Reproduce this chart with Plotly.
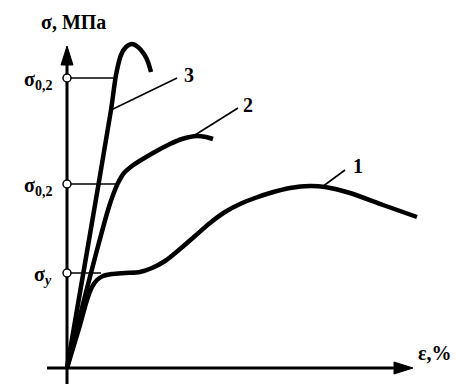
import plotly.graph_objects as go

# Stress-strain curves (strain in %, stress in MPa, arbitrary scale)
strain_1 = [0, 1.3, 2.0, 2.5, 3.0, 3.6, 4.5, 5.8, 7.3, 8.5, 9.8, 11.3, 12.8, 14.3, 15.8, 17.3, 18.8, 20.3, 22.3, 24.3, 25.8, 28.3, 31.6, 35.0]
stress_1 = [0, 86, 136, 162, 176, 184, 188, 190, 192, 200, 214, 238, 264, 290, 312, 328, 340, 350, 360, 364, 362, 350, 326, 302]

strain_2 = [0, 1.7, 3.0, 4.1, 4.6, 5.1, 5.7, 6.5, 8.6, 10.3, 11.5, 13.0, 13.9, 14.6]
stress_2 = [0, 136, 236, 316, 346, 370, 390, 404, 430, 448, 458, 464, 462, 458]

strain_3 = [0, 2.2, 4.4, 4.9, 5.4, 5.9, 6.5, 7.1, 7.7, 8.1, 8.4]
stress_3 = [0, 256, 516, 586, 626, 642, 648, 642, 628, 612, 592]

# Characteristic stresses marked on the stress axis, and where each guide meets its curve
level_labels = ["σ<sub>0,2</sub>", "σ<sub>0,2</sub>", "σ<sub><i>y</i></sub>"]
level_values = [580, 368, 190]
level_reach = [4.8, 5.1, 3.4]

# Curve labels with their leader lines (start on curve, end near label)
curve_names = ["1", "2", "3"]
leader_start = [(25.5, 362), (12.8, 466), (4.4, 516)]
leader_end = [(27.8, 396), (17.1, 520), (11.0, 580)]
label_pos = [(29.1, 404), (18.1, 526), (12.2, 586)]

X_RANGE = [-6.7, 38.9]
Y_RANGE = [-32, 736]
W, H = 456, 384
px_x = W / (X_RANGE[1] - X_RANGE[0])
px_y = H / (Y_RANGE[1] - Y_RANGE[0])

FONT = "Liberation Serif"
fig = go.Figure()

# axes
y_top = 644
x_right = 34.6
fig.add_trace(go.Scatter(x=[0, 0], y=[Y_RANGE[0], y_top - 10], mode="lines",
                         line=dict(color="black", width=3), hoverinfo="skip"))
fig.add_trace(go.Scatter(x=[-2.0, x_right - 1.0], y=[0, 0], mode="lines",
                         line=dict(color="black", width=3), hoverinfo="skip"))
# arrowheads (sized in pixels)
ah_len, ah_half = 19, 6
fig.add_trace(go.Scatter(
    x=[0, -ah_half / px_x, ah_half / px_x, 0],
    y=[y_top, y_top - ah_len / px_y, y_top - ah_len / px_y, y_top],
    mode="lines", fill="toself", fillcolor="black", line=dict(color="black", width=1),
    hoverinfo="skip"))
fig.add_trace(go.Scatter(
    x=[x_right, x_right - ah_len / px_x, x_right - ah_len / px_x, x_right],
    y=[0, ah_half / px_y, -ah_half / px_y, 0],
    mode="lines", fill="toself", fillcolor="black", line=dict(color="black", width=1),
    hoverinfo="skip"))

# horizontal guides
for v, r in zip(level_values, level_reach):
    fig.add_trace(go.Scatter(x=[0, r], y=[v, v], mode="lines",
                             line=dict(color="black", width=1.6), hoverinfo="skip"))

# leader lines
for (x0, y0), (x1, y1) in zip(leader_start, leader_end):
    fig.add_trace(go.Scatter(x=[x0, x1], y=[y0, y1], mode="lines",
                             line=dict(color="black", width=1.6), hoverinfo="skip"))

# curves
for xs, ys in [(strain_1, stress_1), (strain_2, stress_2), (strain_3, stress_3)]:
    fig.add_trace(go.Scatter(x=xs, y=ys, mode="lines",
                             line=dict(color="black", width=4.5, shape="spline", smoothing=0.7),
                             hoverinfo="skip"))

# open circles on stress axis
fig.add_trace(go.Scatter(x=[0] * len(level_values), y=level_values, mode="markers",
                         marker=dict(symbol="circle", size=8, color="white",
                                     line=dict(color="black", width=1.5)),
                         hoverinfo="skip"))

for lab, v in zip(level_labels, level_values):
    fig.add_annotation(x=-1.3, y=v - 4, text=f"<b>{lab}</b>", showarrow=False, xanchor="right",
                       yanchor="middle", font=dict(family=FONT, size=20, color="black"))

for name, (lx, ly) in zip(curve_names, label_pos):
    fig.add_annotation(x=lx, y=ly, text=f"<b>{name}</b>", showarrow=False,
                       font=dict(family=FONT, size=20, color="black"))

fig.add_annotation(x=0.6, y=692, text="<b>σ, МПа</b>", showarrow=False,
                   font=dict(family=FONT, size=20, color="black"))
fig.add_annotation(x=36.8, y=30, text="<b>ε,%</b>", showarrow=False,
                   font=dict(family=FONT, size=20, color="black"))

fig.update_layout(
    width=W, height=H, margin=dict(l=0, r=0, t=0, b=0),
    paper_bgcolor="white", plot_bgcolor="white", showlegend=False,
    font=dict(family=FONT, color="black"),
    xaxis=dict(range=X_RANGE, visible=False, fixedrange=True),
    yaxis=dict(range=Y_RANGE, visible=False, fixedrange=True),
)
fig.write_html("out.html")
